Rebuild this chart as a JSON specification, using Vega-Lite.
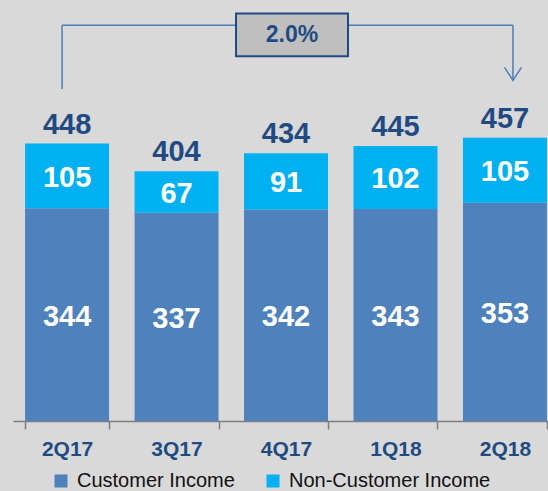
{
  "$schema": "https://vega.github.io/schema/vega-lite/v6.json",
  "autosize": {"type": "none"},
  "padding": {"left": 13, "top": 0, "right": 0, "bottom": 70},
  "width": 535,
  "height": 421,
  "background": "#D9D9D9",
  "config": {
    "view": {"stroke": null},
    "font": "Liberation Sans",
    "axis": {"labelFont": "Liberation Sans", "titleFont": "Liberation Sans"},
    "legend": {"labelFont": "Liberation Sans"}
  },
  "datasets": {
    "bars": [
      {"quarter": "2Q17", "series": "Customer Income", "value": 344},
      {"quarter": "2Q17", "series": "Non-Customer Income", "value": 105},
      {"quarter": "3Q17", "series": "Customer Income", "value": 337},
      {"quarter": "3Q17", "series": "Non-Customer Income", "value": 67},
      {"quarter": "4Q17", "series": "Customer Income", "value": 342},
      {"quarter": "4Q17", "series": "Non-Customer Income", "value": 91},
      {"quarter": "1Q18", "series": "Customer Income", "value": 343},
      {"quarter": "1Q18", "series": "Non-Customer Income", "value": 102},
      {"quarter": "2Q18", "series": "Customer Income", "value": 353},
      {"quarter": "2Q18", "series": "Non-Customer Income", "value": 105}
    ],
    "totals": [
      {"quarter": "2Q17", "total": 448},
      {"quarter": "3Q17", "total": 404},
      {"quarter": "4Q17", "total": 434},
      {"quarter": "1Q18", "total": 445},
      {"quarter": "2Q18", "total": 457}
    ],
    "bracket": [
      {"from": "2Q17", "to": "2Q18", "mid": "4Q17", "label": "2.0%", "level": 640, "leftEnd": 537, "rightEnd": 551, "boxLow": 590, "boxHigh": 659, "labelY": 625}
    ]
  },
  "layer": [
    {
      "data": {"name": "bars"},
      "mark": {"type": "bar"},
      "encoding": {
        "x": {
          "field": "quarter", "type": "nominal", "sort": null,
          "scale": {"domain": ["2Q17", "3Q17", "4Q17", "1Q18", "2Q18"], "paddingInner": 0.233, "paddingOuter": 0.06, "align": 0.92},
          "axis": {
            "title": null, "orient": "bottom", "labelAngle": 0,
            "labelFontSize": 21, "labelFontWeight": "bold", "labelColor": "#1F4B82",
            "labelPadding": 9,
            "domainColor": "#7F7F7F", "domainWidth": 1.5,
            "tickColor": "#7F7F7F", "tickWidth": 1.5, "tickSize": 8,
            "tickBand": "extent"
          }
        },
        "y": {
          "field": "value", "type": "quantitative", "stack": "zero",
          "scale": {"domain": [0, 681], "nice": false, "zero": true},
          "axis": null
        },
        "order": {"field": "series", "sort": "ascending"},
        "color": {
          "field": "series", "type": "nominal",
          "scale": {"domain": ["Customer Income", "Non-Customer Income"], "range": ["#4F81BD", "#00B0F0"]},
          "legend": {
            "title": null, "orient": "none", "legendX": 38, "legendY": 471,
            "direction": "horizontal", "symbolType": "square", "symbolSize": 169,
            "symbolStrokeWidth": 0, "labelFontSize": 20, "labelColor": "#111111",
            "columnPadding": 28, "labelOffset": 6, "labelLimit": 0
          }
        }
      }
    },
    {
      "data": {"name": "bars"},
      "mark": {"type": "text", "color": "#FFFFFF", "fontSize": 29, "fontWeight": "bold", "baseline": "middle", "align": "center", "dy": 2},
      "encoding": {
        "x": {"field": "quarter", "type": "nominal", "sort": null, "scale": {"domain": ["2Q17", "3Q17", "4Q17", "1Q18", "2Q18"]}},
        "y": {"field": "value", "type": "quantitative", "stack": "zero", "bandPosition": 0.5},
        "order": {"field": "series", "sort": "ascending"},
        "detail": {"field": "series"},
        "text": {"field": "value", "type": "quantitative"}
      }
    },
    {
      "data": {"name": "totals"},
      "mark": {"type": "text", "color": "#1F4B82", "fontSize": 29, "fontWeight": "bold", "baseline": "middle", "align": "center", "dy": -19},
      "encoding": {
        "x": {"field": "quarter", "type": "nominal", "sort": null, "scale": {"domain": ["2Q17", "3Q17", "4Q17", "1Q18", "2Q18"]}},
        "y": {"field": "total", "type": "quantitative"},
        "text": {"field": "total", "type": "quantitative"}
      }
    },
    {
      "data": {"name": "bracket"},
      "mark": {"type": "rule", "color": "#4A7EBB", "strokeWidth": 1.5, "xOffset": -5},
      "encoding": {
        "x": {"field": "from", "type": "nominal", "sort": null, "scale": {"domain": ["2Q17", "3Q17", "4Q17", "1Q18", "2Q18"]}},
        "y": {"field": "leftEnd", "type": "quantitative"},
        "y2": {"field": "level"}
      }
    },
    {
      "data": {"name": "bracket"},
      "mark": {"type": "rule", "color": "#4A7EBB", "strokeWidth": 1.5, "xOffset": -5, "x2Offset": 8},
      "encoding": {
        "x": {"field": "from", "type": "nominal", "sort": null, "bandPosition": 0.5, "scale": {"domain": ["2Q17", "3Q17", "4Q17", "1Q18", "2Q18"]}},
        "x2": {"field": "to", "bandPosition": 0.5},
        "y": {"field": "level", "type": "quantitative"}
      }
    },
    {
      "data": {"name": "bracket"},
      "mark": {"type": "rule", "color": "#4A7EBB", "strokeWidth": 1.5, "xOffset": 8},
      "encoding": {
        "x": {"field": "to", "type": "nominal", "sort": null, "scale": {"domain": ["2Q17", "3Q17", "4Q17", "1Q18", "2Q18"]}},
        "y": {"field": "rightEnd", "type": "quantitative"},
        "y2": {"field": "level"}
      }
    },
    {
      "data": {"name": "bracket"},
      "mark": {"type": "point", "shape": "M -0.65 -1 L 0 0 L 0.65 -1", "size": 676, "filled": false, "stroke": "#4A7EBB", "strokeWidth": 1.5, "opacity": 1, "xOffset": 8},
      "encoding": {
        "x": {"field": "to", "type": "nominal", "sort": null, "scale": {"domain": ["2Q17", "3Q17", "4Q17", "1Q18", "2Q18"]}},
        "y": {"field": "rightEnd", "type": "quantitative"}
      }
    },
    {
      "data": {"name": "bracket"},
      "mark": {"type": "rect", "fill": "#BFBFBF", "stroke": "#1F4B82", "strokeWidth": 2, "width": 112, "xOffset": 6},
      "encoding": {
        "x": {"field": "mid", "type": "nominal", "sort": null, "scale": {"domain": ["2Q17", "3Q17", "4Q17", "1Q18", "2Q18"]}},
        "y": {"field": "boxLow", "type": "quantitative"},
        "y2": {"field": "boxHigh"}
      }
    },
    {
      "data": {"name": "bracket"},
      "mark": {"type": "text", "color": "#1F4B82", "fontSize": 23, "fontWeight": "bold", "baseline": "middle", "align": "center", "xOffset": 6},
      "encoding": {
        "x": {"field": "mid", "type": "nominal", "sort": null, "scale": {"domain": ["2Q17", "3Q17", "4Q17", "1Q18", "2Q18"]}},
        "y": {"field": "labelY", "type": "quantitative"},
        "text": {"field": "label"}
      }
    }
  ]
}
